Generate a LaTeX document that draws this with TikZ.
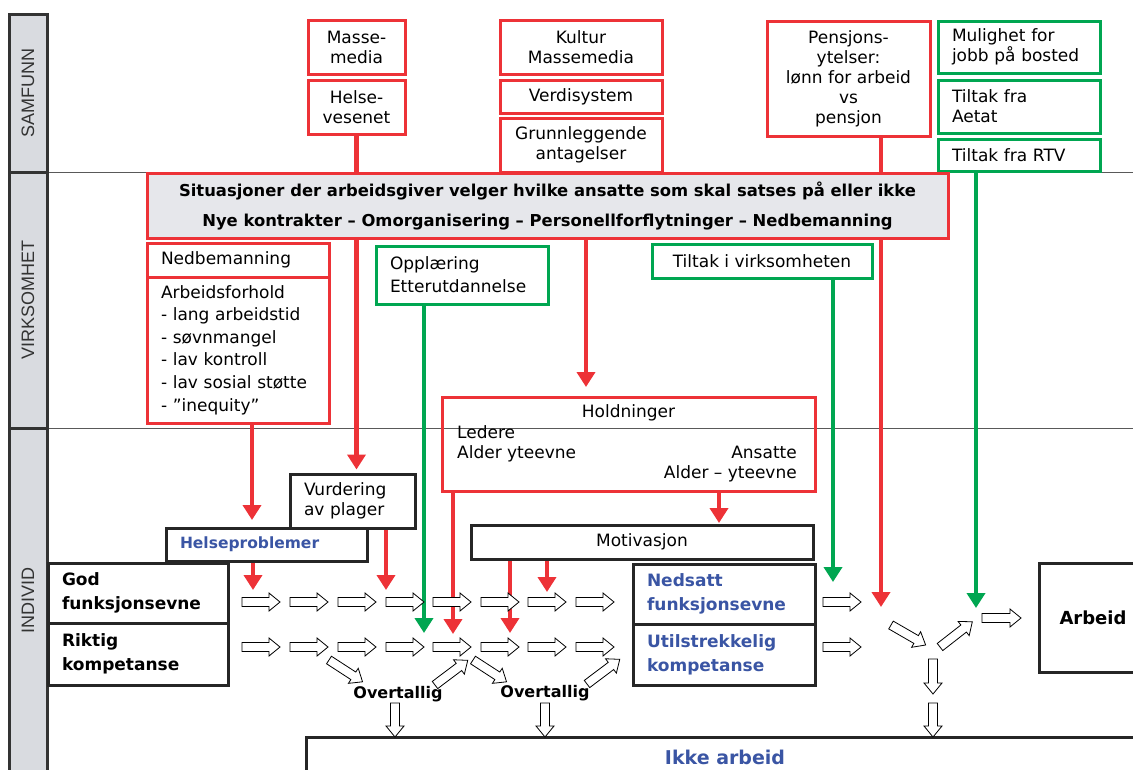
\documentclass[tikz,border=0pt]{standalone}
\usepackage{fontspec}
\setmainfont{DejaVu Sans}
\newfontfamily\bandfont{Liberation Sans}
\usepackage{xcolor}
\usetikzlibrary{arrows.meta, positioning, backgrounds}

\definecolor{boxred}{RGB}{237,50,55}
\definecolor{boxgreen}{RGB}{0,166,81}
\definecolor{textblue}{RGB}{58,85,164}
\definecolor{sitgray}{RGB}{230,231,235}
\definecolor{bandgray}{RGB}{217,219,224}

\tikzset{flow/.pic={\draw[line width=0.8pt, fill=white, line join=miter] (0,-4.5) -- (#1-11,-4.5) -- (#1-11,-9) -- (#1,0) -- (#1-11,9) -- (#1-11,4.5) -- (0,4.5) -- cycle;}}

\begin{document}
\begin{tikzpicture}[x=1pt, y=-1pt]
\tikzstyle{base} = [rectangle, inner sep=0pt, font=\fontsize{17}{20}\selectfont]
\tikzstyle{redbox} = [base, draw=boxred, line width=3pt, fill=white, align=center]
\tikzstyle{greenbox} = [base, draw=boxgreen, line width=3pt, fill=white, align=left, inner xsep=14pt]
\tikzstyle{blackbox} = [base, draw=black!85, line width=3pt, fill=white]
\tikzstyle{boldtext} = [font=\bfseries\fontsize{17}{24}\selectfont]
\tikzstyle{bluetext} = [boldtext, text=textblue]
\tikzstyle{redarrow} = [draw=boxred, line width=4.5pt, -{Triangle[width=18pt,length=15pt]}]
\tikzstyle{greenarrow} = [redarrow, draw=boxgreen]
\tikzstyle{band} = [draw=black!80, line width=3pt, fill=bandgray]
\tikzstyle{bandlabel} = [rotate=90, font=\bandfont\fontsize{18}{18}\selectfont, text=black!80]

\useasboundingbox (0,0) rectangle (1133,769);
\clip (0,0) rectangle (1133,769);

% left band
\draw[band] (9,14) rectangle (47,172);
\draw[band] (9,172) rectangle (47,428);
\draw[band] (9,428) rectangle (47,790);
\node[bandlabel] (samfunn) at (28,93) {SAMFUNN};
\node[bandlabel] (virksomhet) at (28,300) {VIRKSOMHET};
\node[bandlabel] (individ) at (28,600) {INDIVID};

% samfunn
\node (masse) [redbox, minimum width=97, minimum height=54] at (356.5,47) {Masse-\\media};
\node (helse) [redbox, minimum width=97, minimum height=54] at (356.5,107) {Helse-\\vesenet};
\node (kultur) [redbox, minimum width=162, minimum height=54] at (581,47) {Kultur\\Massemedia};
\node (verdi) [redbox, minimum width=162, minimum height=33] at (581,96.5) {Verdisystem};
\node (grunn) [redbox, minimum width=162, minimum height=54] at (581,145) {Grunnleggende\\antagelser};
\node (pensjon) [redbox, minimum width=163, minimum height=115] at (848.5,78.5) {Pensjons-\\ytelser:\\lønn for arbeid\\vs\\pensjon};
\node (mulighet) [greenbox, text width=134, minimum height=52] at (1019,47) {Mulighet for\\jobb på bosted};
\node (aetat) [greenbox, text width=134, minimum height=53] at (1019,106.5) {Tiltak fra\\Aetat};
\node (rtv) [greenbox, text width=134, minimum height=32] at (1019,155) {Tiltak fra RTV};

% virksomhet
\node (situasjon) [redbox, fill=sitgray, minimum width=801, minimum height=65, font=\bfseries\fontsize{16.4}{30}\selectfont] at (547.5,205.5) {Situasjoner der arbeidsgiver velger hvilke ansatte som skal satses på eller ikke\\Nye kontrakter – Omorganisering – Personellforflytninger – Nedbemanning};
\node (nedhead) [redbox, align=left, inner xsep=14pt, text width=154, minimum height=34] at (238,260) {Nedbemanning};
\node (nedbody) [redbox, align=left, inner xsep=14pt, text width=154, minimum height=146, font=\fontsize{17}{22.6}\selectfont] at (238,350) {Arbeidsforhold\\- lang arbeidstid\\- søvnmangel\\- lav kontroll\\- lav sosial støtte\\- ”inequity”};
\node (opplaering) [greenbox, text width=144, minimum height=58, font=\fontsize{17}{23}\selectfont] at (462,275) {Opplæring\\Etterutdannelse};
\node (tiltakv) [greenbox, align=center, inner xsep=0pt, minimum width=220, minimum height=34] at (762,261) {Tiltak i virksomheten};

% holdninger
\node (holdn) [base, draw=boxred, line width=3pt, minimum width=373, minimum height=94] at (628.5,444) {};
\node (holdtitle) [base] at (628.5,413) {Holdninger};
\node (ledere) [base, anchor=west, align=left] at (457,444) {Ledere\\Alder yteevne};
\node (ansatte) [base, anchor=east, align=right] at (797,464) {Ansatte\\Alder – yteevne};

% individ
\node (vurdering) [blackbox, align=left, inner xsep=14pt, text width=97, minimum height=54] at (352.5,501) {Vurdering\\av plager};
\node (helsepro) [blackbox, bluetext, align=left, inner xsep=14pt, text width=173, minimum height=33, font=\bfseries\fontsize{15.5}{20}\selectfont] at (266.5,544.5) {Helseproblemer};
\node (motiv) [blackbox, minimum width=342, minimum height=34] at (642,542) {Motivasjon};
\node (god) [blackbox, boldtext, align=left, inner xsep=14pt, text width=152, minimum height=60] at (138,593) {God\\funksjonsevne};
\node (riktig) [blackbox, boldtext, align=left, inner xsep=14pt, text width=152, minimum height=62] at (138,654) {Riktig\\kompetanse};
\node (nedsatt) [blackbox, bluetext, align=left, inner xsep=14pt, text width=154, minimum height=60] at (724,594) {Nedsatt\\funksjonsevne};
\node (utilstr) [blackbox, bluetext, align=left, inner xsep=14pt, text width=154, minimum height=61] at (724,654.5) {Utilstrekkelig\\kompetanse};
\node (arbeid) [blackbox, minimum width=108, minimum height=109, font=\bfseries\fontsize{18}{22}\selectfont] at (1093,617.5) {Arbeid};
\node (ikke) [blackbox, text=textblue, minimum width=838, minimum height=40, font=\bfseries\fontsize{19}{22}\selectfont] at (725,757) {Ikke arbeid};
\node (over1) [base, font=\bfseries\fontsize{16}{20}\selectfont] at (398,694) {Overtallig};
\node (over2) [base, font=\bfseries\fontsize{16}{20}\selectfont] at (545,693) {Overtallig};

% free arrow ends
\coordinate (tgrunn) at (586,387);
\coordinate (tned) at (252,520);
\coordinate (tmotiv) at (719,523);
\coordinate (topp) at (424,633);
\coordinate (ttiltak) at (833,582);
\coordinate (trtv) at (976,608);
\coordinate (tpensjon) at (881,607);
\coordinate (tholdn) at (453,634);
\coordinate (tmot1) at (510,633);
\coordinate (tmot2) at (547,592);
\coordinate (tvurd) at (386,590);
\coordinate (thelse) at (253,590);

\begin{scope}[on background layer]
\draw[line width=1pt, black!65] (47,172) -- (1133,172);
\draw[line width=1pt, black!65] (47,428) -- (1133,428);
\draw[redarrow, shorten >=3pt] (helse.south) -- (helse.south |- vurdering.north);
\draw[redarrow] (grunn.south -| tgrunn) -- (tgrunn);
\draw[redarrow] (nedbody.south -| tned) -- (tned);
\draw[redarrow] (holdn.south -| tmotiv) -- (tmotiv);
\draw[greenarrow] (opplaering.south -| topp) -- (topp);
\draw[greenarrow] (tiltakv.south -| ttiltak) -- (ttiltak);
\draw[greenarrow] (rtv.south -| trtv) -- (trtv);
\draw[redarrow] (pensjon.south -| tpensjon) -- (tpensjon);
\draw[redarrow] (holdn.south -| tholdn) -- (tholdn);
\draw[redarrow] (motiv.south -| tmot1) -- (tmot1);
\draw[redarrow] (motiv.south -| tmot2) -- (tmot2);
\draw[redarrow] (vurdering.south -| tvurd) -- (tvurd);
\draw[redarrow] (helsepro.south -| thelse) -- (thelse);
\end{scope}

% flow arrows
\foreach \x in {242,290,338,386,433,481,528,576,823} {
  \pic at (\x,602) {flow=38};
  \pic at (\x,647) {flow=38};
}
\pic[rotate=-33] at (329,660) {flow=40};
\pic[rotate=37] at (435,685) {flow=41};
\pic[rotate=-33] at (473,660) {flow=40};
\pic[rotate=37] at (587,684) {flow=41};
\pic[rotate=-30] at (891,625) {flow=40};
\pic[rotate=38] at (940,647) {flow=41};
\pic at (982,618) {flow=39};
\pic[rotate=-90] at (933,659) {flow=35};
\pic[rotate=-90] at (933,703) {flow=34};
\pic[rotate=-90] at (395,703) {flow=34};
\pic[rotate=-90] at (545,703) {flow=34};

\end{tikzpicture}
\end{document}
